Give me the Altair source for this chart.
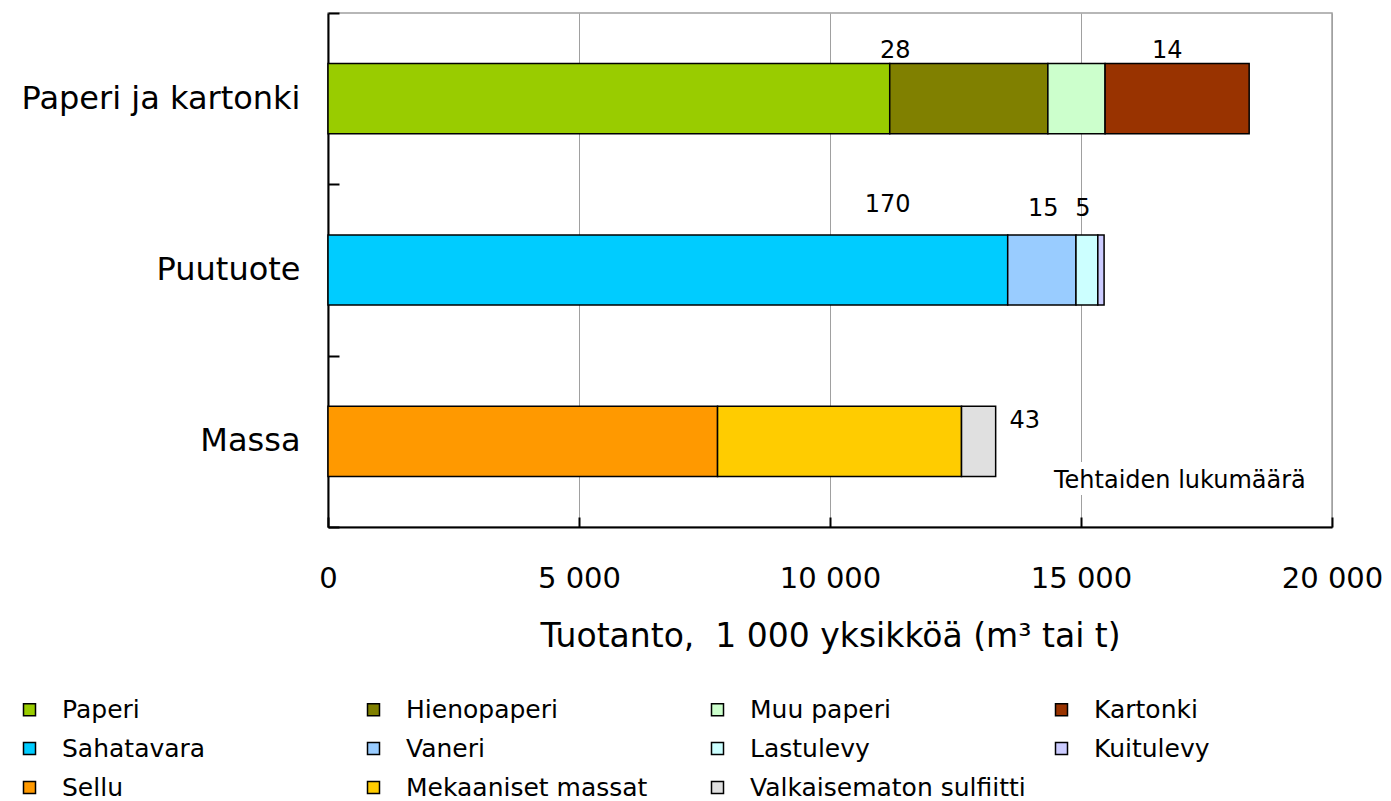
import altair as alt
import pandas as pd

# ---------------- data ----------------
categories = ["Paperi ja kartonki", "Puutuote", "Massa"]

series_names = [
    "Paperi", "Hienopaperi", "Muu paperi", "Kartonki",
    "Sahatavara", "Vaneri", "Lastulevy", "Kuitulevy",
    "Sellu", "Mekaaniset massat", "Valkaisematon sulfiitti",
]
series_category = [
    "Paperi ja kartonki", "Paperi ja kartonki", "Paperi ja kartonki", "Paperi ja kartonki",
    "Puutuote", "Puutuote", "Puutuote", "Puutuote",
    "Massa", "Massa", "Massa",
]
series_values = [
    11190, 3150, 1140, 2870,
    13540, 1360, 435, 125,
    7760, 4860, 680,
]

# mill counts ("Tehtaiden lukumäärä") and where they sit on the value axis
label_texts = ["28", "14", "170", "15", "5", "43", "Tehtaiden lukumäärä"]
label_category = ["Paperi ja kartonki", "Paperi ja kartonki", "Puutuote", "Puutuote",
                  "Puutuote", "Massa", "Massa"]
label_x = [11300, 16720, 11150, 14250, 15040, 13880, 16970]

x_ticks = [0, 5000, 10000, 15000, 20000]

# ---------------- style ----------------
colors = ["#99CC00", "#808000", "#CCFFCC", "#993300",
          "#00CCFF", "#99CCFF", "#CCFFFF", "#CCCCFF",
          "#FF9900", "#FFCC00", "#E0E0E0"]
LABEL_DY = [-48, -48, -65, -61, -61, -20, 40]
FONT = "DejaVu Sans"
W, H = 1004, 514

df = pd.DataFrame({
    "category": series_category,
    "series": series_names,
    "value": series_values,
    "order": list(range(len(series_names))),
})
lab = pd.DataFrame({"label": label_texts, "category": label_category, "x": label_x})

xscale = alt.Scale(domain=[0, 20000], nice=False, zero=True)
yscale = alt.Scale(paddingInner=0, paddingOuter=0)

bars = alt.Chart(df).mark_bar(stroke="black", strokeWidth=1.5, height={"band": 0.41}).encode(
    x=alt.X("value:Q", stack="zero", scale=xscale,
            axis=alt.Axis(orient="bottom", values=x_ticks, grid=True, gridColor="#A0A0A0",
                          gridWidth=1, ticks=False, tickSize=0, domain=True,
                          domainColor="black", domainWidth=2, labelFlush=False,
                          labelOverlap=False,
                          labelExpr="replace(format(datum.value, ','), ',', ' ')",
                          labelFont=FONT, labelFontSize=29, labelColor="black",
                          labelBaseline="middle", labelPadding=51,
                          title="Tuotanto,\u00a0 1\u00a0000 yksikköä (m³ tai t)",
                          titleFont=FONT, titleFontSize=33, titleFontWeight="normal",
                          titleColor="black", titlePadding=27)),
    y=alt.Y("category:N", sort=categories, scale=yscale,
            axis=alt.Axis(orient="left", title=None, ticks=False, tickSize=0, domain=True,
                          domainColor="black", domainWidth=2, grid=False,
                          labelFont=FONT, labelFontSize=32, labelColor="black",
                          labelPadding=28, labelLimit=400)),
    color=alt.Color("series:N", scale=alt.Scale(domain=series_names, range=colors),
                    legend=alt.Legend(orient="none", legendX=-311, legendY=684,
                                      direction="horizontal",
                                      columns=4, gridAlign="all", columnPadding=23,
                                      rowPadding=13, title=None, padding=0,
                                      labelFont=FONT, labelFontSize=25, labelColor="black",
                                      labelOffset=20, labelLimit=400,
                                      symbolType="square", symbolSize=144,
                                      symbolStrokeColor="black", symbolStrokeWidth=1.5,
                                      symbolOpacity=1)),
    order=alt.Order("order:Q"),
)

# inward-pointing ticks (secondary axes placed on the opposite side)
ticks = alt.Chart(df).mark_point(opacity=0).encode(
    x=alt.X("value:Q", scale=xscale,
            axis=alt.Axis(orient="top", offset=-H, values=x_ticks, labels=False,
                          domain=False, grid=False, ticks=True, tickSize=10,
                          tickColor="black", tickWidth=2, title=None)),
    y=alt.Y("category:N", sort=categories, scale=yscale,
            axis=alt.Axis(orient="right", offset=-W, labels=False, domain=False,
                          grid=False, ticks=True, tickSize=11, tickColor="black",
                          tickWidth=2, tickBand="extent", title=None)),
)

layers = [bars, ticks]

# white halo behind the caption so the grid line is interrupted
halo = alt.Chart(lab[lab["label"] == "Tehtaiden lukumäärä"]).mark_text(
    dy=LABEL_DY[-1], font=FONT, fontSize=24, stroke="white", strokeWidth=14,
    strokeJoin="round", fill="white").encode(
    x=alt.X("x:Q", scale=xscale, axis=None),
    y=alt.Y("category:N", sort=categories, scale=yscale, axis=None),
    text="label:N",
)
layers.append(halo)

for i in range(len(label_texts)):
    t = alt.Chart(lab.iloc[[i]]).mark_text(
        dy=LABEL_DY[i], font=FONT, fontSize=24, color="black",
        align="center", baseline="middle").encode(
        x=alt.X("x:Q", scale=xscale, axis=None),
        y=alt.Y("category:N", sort=categories, scale=yscale, axis=None),
        text="label:N",
    )
    layers.append(t)

chart = alt.layer(*layers).resolve_axis(x="independent", y="independent").properties(
    width=W, height=H,
    autosize=alt.AutoSizeParams(type="none"),
    padding={"left": 320, "top": 5, "right": 51, "bottom": 278},
    background="white",
).configure_view(stroke="#A0A0A0", strokeWidth=1.5).configure_text(font=FONT)

chart.save("out.html", embed_options={"renderer": "svg", "actions": False})
